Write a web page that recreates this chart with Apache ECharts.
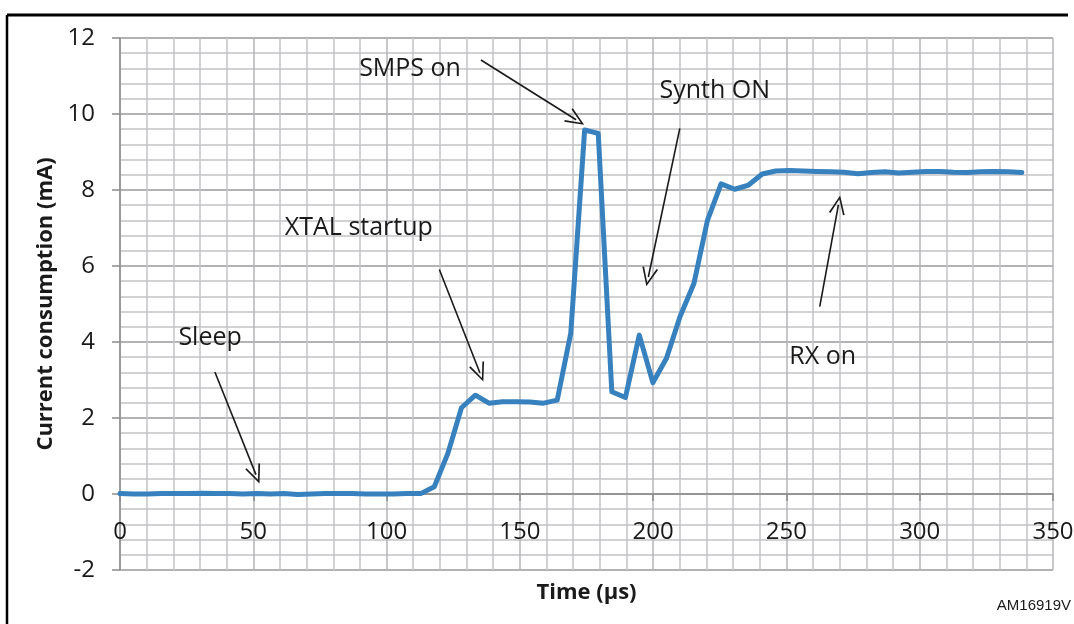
<!DOCTYPE html>
<html>
<head>
<meta charset="utf-8">
<script src="https://cdn.jsdelivr.net/npm/echarts@6/dist/echarts.min.js"></script>
<style>
  html, body { margin: 0; padding: 0; background: #fff; }
  #main { width: 1074px; height: 624px; }
</style>
</head>
<body>
<div id="main"></div>
<script>
"use strict"
// sample times (µs) and current (mA)
var times = [0, 5.1, 10.3, 15.4, 20.5, 25.6, 30.8, 35.9, 41, 46.1, 51.3, 56.4, 61.5, 66.6, 71.8, 76.9,
  82, 87.1, 92.3, 97.4, 102.5, 107.6, 112.8, 117.9, 123, 128.1, 133.3, 138.4, 143.5, 148.6, 153.8,
  158.9, 164, 169.1, 174.3, 179.4, 184.5, 189.6, 194.8, 199.9, 205, 210.1, 215.3, 220.4, 225.5,
  230.6, 235.8, 240.9, 246, 251.1, 256.3, 261.4, 266.5, 271.6, 276.8, 281.9, 287, 292.1, 297.3,
  302.4, 307.5, 312.6, 317.8, 322.9, 328, 333.1, 338.3];
var current = [0.01, 0, 0, 0.01, 0.01, 0.01, 0.02, 0.01, 0.01, 0, 0.01, 0, 0.01, -0.01, 0, 0.01,
  0.01, 0.01, 0, 0, 0, 0.01, 0.01, 0.19, 1.07, 2.27, 2.6, 2.39, 2.43, 2.43, 2.42,
  2.39, 2.47, 4.23, 9.58, 9.49, 2.69, 2.54, 4.18, 2.93, 3.57, 4.67, 5.54, 7.21, 8.16,
  8.02, 8.13, 8.42, 8.5, 8.51, 8.5, 8.49, 8.48, 8.47, 8.43, 8.46, 8.48, 8.45, 8.47,
  8.49, 8.49, 8.47, 8.46, 8.48, 8.49, 8.48, 8.46];

// annotation labels and arrows, in data coordinates
var noteNames = ['Sleep', 'XTAL startup', 'SMPS on', 'Synth ON', 'RX on'];
var notePos = [[33.8, 4.1], [89.6, 7.0], [108.8, 11.2], [223.1, 10.6], [263.6, 3.6]];
var arrowFrom = [[35.6, 3.21], [119.8, 5.91], [135.4, 11.42], [210, 9.62], [262.5, 4.93]];
// end points sit at the centre of the arrow head
var arrowTo = [[51.0, 0.51], [135.0, 3.19], [171.1, 9.85], [198.2, 5.71], [269.5, 7.61]];

var FONT = '"Open Sans", sans-serif';
var arrowHead = 'path://M6,0 L12,15 L10.8,15.5 L6,3.2 L1.2,15.5 L0,15 Z';

var myChart = echarts.init(document.getElementById('main'));

var lineData = times.map(function (t, i) { return [t, current[i]]; });
var markLines = arrowFrom.map(function (p, i) {
  return [{ coord: p }, { coord: arrowTo[i] }];
});
var markPoints = noteNames.map(function (n, i) {
  return { name: n, coord: notePos[i] };
});

var option = {
  animation: false,
  grid: { left: 120, right: 21, top: 38, bottom: 54, outerBoundsMode: 'none', containLabel: false },
  xAxis: {
    type: 'value',
    min: 0, max: 350, interval: 50,
    position: 'bottom',
    offset: -76,   // x axis drawn on the 0 mA line (2 units above the -2 edge)
    name: 'Time (µs)',
    nameLocation: 'middle',
    nameGap: 88,
    nameTextStyle: { fontFamily: FONT, fontSize: 22, fontWeight: 'bold', color: '#1a1a1a' },
    axisLine: { onZero: false, lineStyle: { color: '#8c8c8c', width: 1.5 } },
    axisTick: { show: true, length: 7, lineStyle: { color: '#8c8c8c', width: 1.5 } },
    axisLabel: { margin: 26, fontFamily: FONT, fontSize: 24, color: '#1a1a1a' },
    splitLine: { show: true, lineStyle: { color: '#b4b4b8', width: 1.5 } },
    minorTick: { show: false, splitNumber: 5 },
    minorSplitLine: { show: true, lineStyle: { color: '#c4c4c8', width: 1.5 } }
  },
  yAxis: {
    type: 'value',
    min: -2, max: 12, interval: 2,
    name: 'Current consumption (mA)',
    nameLocation: 'middle',
    nameGap: 62,
    nameTextStyle: { fontFamily: FONT, fontSize: 22, fontWeight: 'bold', color: '#1a1a1a' },
    axisLine: { show: true, lineStyle: { color: '#8c8c8c', width: 1.5 } },
    axisTick: { show: true, length: 8, lineStyle: { color: '#8c8c8c', width: 1.5 } },
    axisLabel: { margin: 25, fontFamily: FONT, fontSize: 24, color: '#1a1a1a' },
    splitLine: { show: true, lineStyle: { color: '#9a9a9e', width: 1.5 } },
    minorTick: { show: false, splitNumber: 5 },
    minorSplitLine: { show: true, lineStyle: { color: '#c4c4c8', width: 1.5 } }
  },
  series: [{
    name: 'Current',
    type: 'line',
    data: lineData,
    showSymbol: false,
    symbol: 'none',
    lineStyle: { color: '#3781be', width: 5, join: 'round', cap: 'round' },
    markLine: {
      silent: true,
      symbol: ['none', arrowHead],
      symbolSize: [16, 19],
      label: { show: false },
      lineStyle: { color: '#1a1a1a', width: 1.6, type: 'solid' },
      data: markLines
    },
    markPoint: {
      silent: true,
      symbol: 'circle',
      symbolSize: 1,
      itemStyle: { color: 'rgba(0,0,0,0)' },
      label: {
        show: true,
        position: 'inside',
        formatter: '{b}',
        fontFamily: FONT,
        fontSize: 25,
        color: '#1a1a1a'
      },
      data: markPoints
    }
  }],
  graphic: [
    { type: 'line', shape: { x1: 7, y1: 15, x2: 1068, y2: 15 }, style: { stroke: '#000', lineWidth: 3 } },
    { type: 'line', shape: { x1: 7, y1: 15, x2: 7, y2: 624 }, style: { stroke: '#000', lineWidth: 2.5 } },
    {
      type: 'text', right: 3, top: 598,
      style: { text: 'AM16919V', font: '15px "Liberation Sans", Arial, sans-serif', fill: '#1a1a1a' }
    }
  ]
};

myChart.setOption(option, true);
</script>
</body>
</html>
